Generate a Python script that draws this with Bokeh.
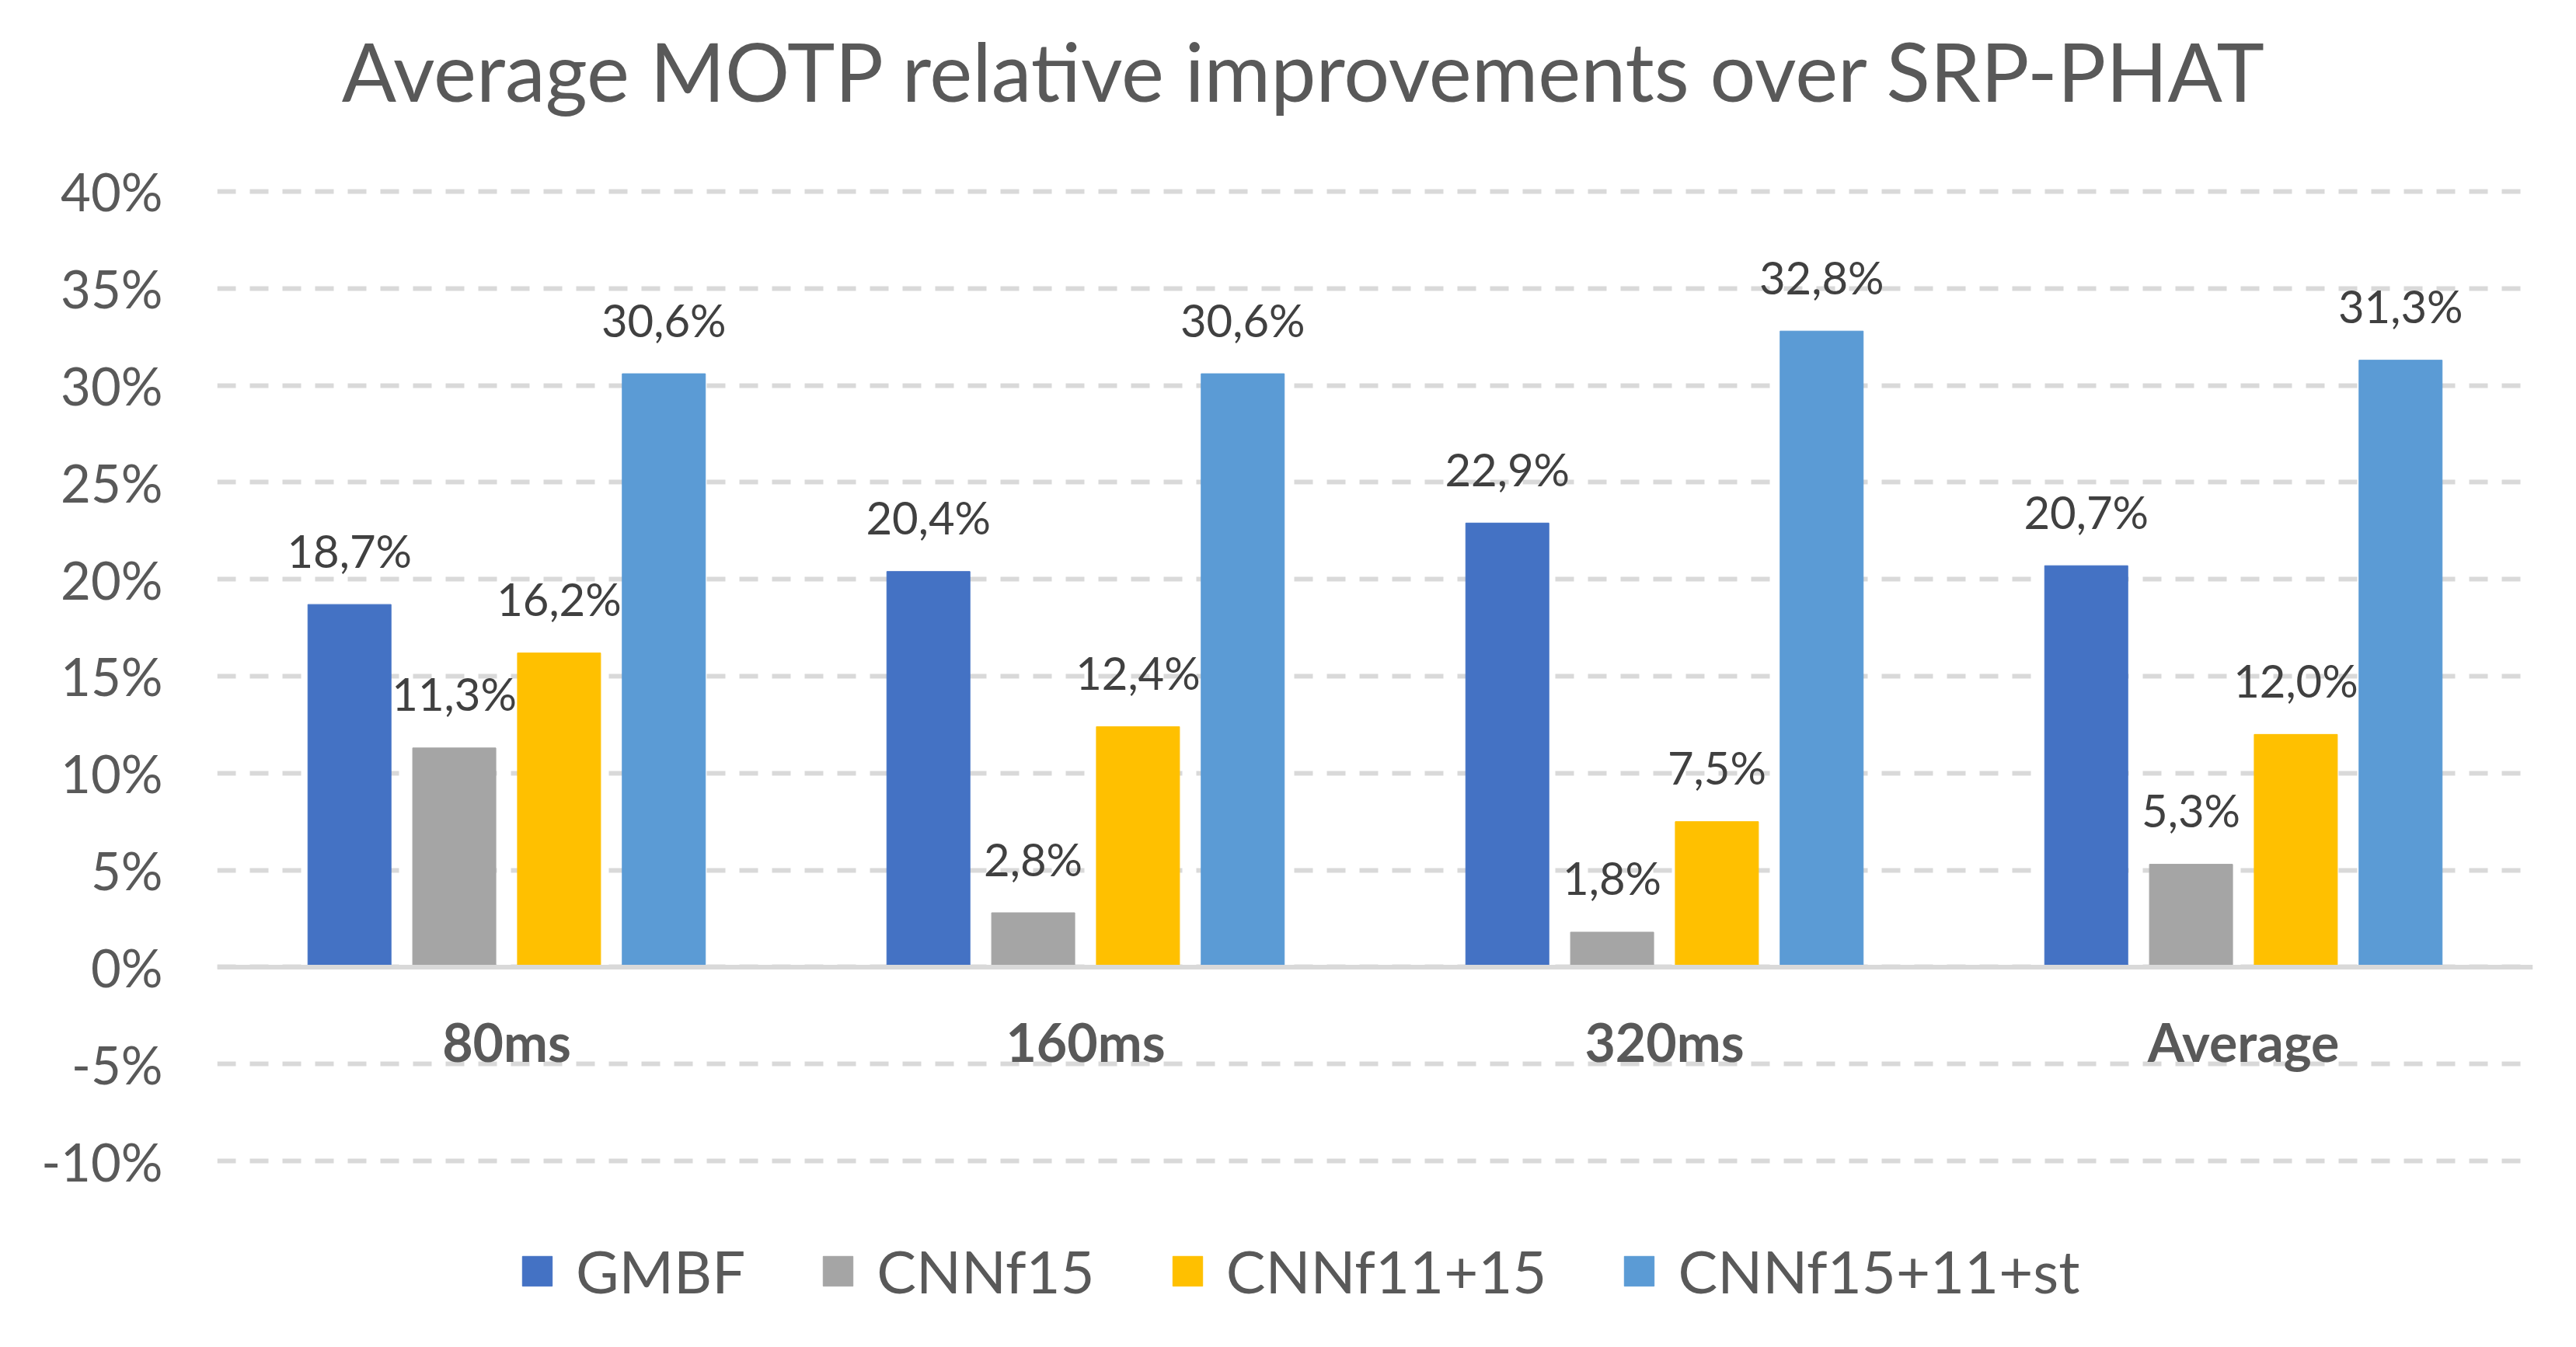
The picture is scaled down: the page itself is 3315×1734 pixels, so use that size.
from bokeh.plotting import figure
from bokeh.models import (ColumnDataSource, FactorRange, Range1d, FixedTicker,
                          PrintfTickFormatter, Legend, Span, Label)
from bokeh.transform import dodge
from bokeh.core.properties import value
from bokeh.embed import file_html
from bokeh.resources import INLINE

# ---- data ----
categories = ["80ms", "160ms", "320ms", "Average"]
series_names = ["GMBF", "CNNf15", "CNNf11+15", "CNNf15+11+st"]
gmbf = [18.7, 20.4, 22.9, 20.7]
cnnf15 = [11.3, 2.8, 1.8, 5.3]
cnnf11_15 = [16.2, 12.4, 7.5, 12.0]
cnnf15_11_st = [30.6, 30.6, 32.8, 31.3]
y_ticks = [-10, -5, 0, 5, 10, 15, 20, 25, 30, 35, 40]
title_text = "Average MOTP relative improvements over SRP-PHAT"

colors = ["#4472C4", "#A5A5A5", "#FFC000", "#5B9BD5"]
offsets = [-0.2715, -0.0905, 0.0905, 0.2715]
FONT = "Lato"

def fmt(v):
    return f"{v:.1f}%".replace(".", ",")

series_vals = [gmbf, cnnf15, cnnf11_15, cnnf15_11_st]
data = {"cat": categories, "zero": [0] * len(categories)}
for i, vals in enumerate(series_vals):
    data[f"s{i}"] = vals
    data[f"t{i}"] = [fmt(v) for v in vals]
source = ColumnDataSource(data)

W, H = 3299, 1718
p = figure(width=W, height=H, output_backend="svg", toolbar_location=None,
           x_range=FactorRange(*categories, range_padding=0),
           y_range=Range1d(-18.173, 49.455), x_axis_location=None,
           min_border_left=279, min_border_right=40,
           min_border_top=10, min_border_bottom=20,
           tools="", title=None)
p.outline_line_color = None
p.background_fill_color = "white"
p.border_fill_color = "white"

# grid
p.xgrid.grid_line_color = None
p.ygrid.ticker = FixedTicker(ticks=y_ticks)
p.ygrid.grid_line_color = "#D9D9D9"
p.ygrid.grid_line_width = 6
p.ygrid.grid_line_dash = "24 18"

renderers = []
for i in range(4):
    r = p.vbar(x=dodge("cat", offsets[i], range=p.x_range), top=f"s{i}", bottom=0,
               width=0.1436, source=source, fill_color=colors[i], line_color=colors[i],
               line_width=1)
    renderers.append(r)
    p.text(x=dodge("cat", offsets[i], range=p.x_range), y=f"s{i}", text=f"t{i}",
           source=source, text_align="center", text_baseline="middle",
           y_offset=-70, text_font=value(FONT), text_font_size="58px",
           text_color="#404040")

# horizontal category axis line at zero
p.add_layout(Span(location=0, dimension="width", line_color="#D9D9D9", line_width=6))

# category labels just below the zero line
p.text(x="cat", y="zero", text="cat", source=source, text_align="center",
       text_baseline="middle", y_offset=96, text_font=value(FONT),
       text_font_style="bold", text_font_size="68px", text_color="#595959")

# title (inside the drawing area, above the 40% line)
p.add_layout(Label(x=1.879, y=46.25, text=title_text, text_align="center",
                   text_baseline="middle", text_font=FONT, text_font_size="104px",
                   text_color="#595959"))

# y axis
p.yaxis.ticker = FixedTicker(ticks=y_ticks)
p.yaxis.formatter = PrintfTickFormatter(format="%d%%")
p.yaxis.axis_line_color = None
p.yaxis.major_tick_line_color = None
p.yaxis.minor_tick_line_color = None
p.yaxis.major_tick_out = 0
p.yaxis.major_tick_in = 0
p.yaxis.major_label_standoff = 70
p.yaxis.major_label_text_font = FONT
p.yaxis.major_label_text_font_size = "67px"
p.yaxis.major_label_text_color = "#595959"

legend = Legend(items=[(series_names[i], [renderers[i]]) for i in range(4)],
                location=(388, 17), orientation="horizontal",
                glyph_width=48, glyph_height=48, label_standoff=26, spacing=95,
                padding=0, margin=0, border_line_alpha=0, background_fill_alpha=0,
                label_text_font=FONT, label_text_font_size="76px",
                label_text_color="#595959")
p.add_layout(legend, "center")

open("out.html", "w").write(file_html(p, INLINE))
